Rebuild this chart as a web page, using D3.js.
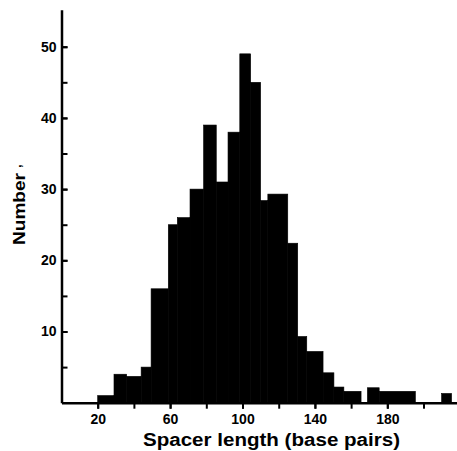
<!DOCTYPE html>
<html>
<head>
<meta charset="utf-8">
<script src="https://cdn.jsdelivr.net/npm/d3@7"></script>
<style>
  html, body { margin: 0; padding: 0; background: #fff; }
  svg { display: block; }
</style>
</head>
<body>
<svg id="chart" width="457" height="451"></svg>
<script>
// Histogram bin edges (base pairs) and counts
const binEdges = [20, 29, 36, 44, 49.5, 59, 64, 71, 78.5, 85.5, 92, 98.5, 104.5, 110, 114, 125, 130.5, 135.5, 144.5, 150.5, 156, 165.5, 169, 175.5, 195.5, 210, 215.5];
const binCounts = [1, 4, 3.7, 5, 16, 25, 26, 30, 39, 31, 38, 49, 45, 28.4, 29.3, 22.4, 9.3, 7.2, 4.2, 2.2, 1.6, 0, 2.1, 1.6, 0, 1.3];
const xTickValues = [20, 40, 60, 80, 100, 120, 140, 160, 180, 200];
const xLabelValues = [20, 60, 100, 140, 180];
const yTickValues = [5, 10, 15, 20, 25, 30, 35, 40, 45, 50];
const yLabelValues = [10, 20, 30, 40, 50];
const xTitle = "Spacer length  (base pairs)";
const yTitle = "Number";

const bins = binCounts.map((c, i) => ({ x0: binEdges[i], x1: binEdges[i + 1], count: c }));

const svg = d3.select("#chart");
const x = d3.scaleLinear().domain([0, 218.5]).range([61.5, 457]);
const y = d3.scaleLinear().domain([0, 55.2]).range([402.7, 9.7]);

// bars
svg.append("g")
  .selectAll("rect")
  .data(bins.filter(d => d.count > 0))
  .join("rect")
  .attr("x", d => x(d.x0))
  .attr("width", d => x(d.x1) - x(d.x0))
  .attr("y", d => y(d.count))
  .attr("height", d => y(0) - y(d.count))
  .attr("fill", "#000")
  .attr("stroke", "#000")
  .attr("stroke-width", 0.6);

const tickFont = "'Liberation Sans', Arial, sans-serif";

function styleTicks(g) {
  g.selectAll(".tick line").attr("stroke-width", 2);
  g.selectAll(".tick text")
    .attr("font-family", tickFont)
    .attr("font-weight", "bold")
    .attr("font-size", 14)
    .attr("fill", "#000");
}

// x axis: all ticks, then labels on every other tick
const gx = svg.append("g")
  .attr("transform", `translate(0,${y(0)})`)
  .call(d3.axisBottom(x).tickValues(xTickValues).tickFormat(() => null)
    .tickSizeInner(6).tickSizeOuter(0));
gx.select(".domain").attr("stroke-width", 2.5);
gx.selectAll(".tick text").remove();
const gxl = svg.append("g")
  .attr("transform", `translate(0,${y(0)})`)
  .call(d3.axisBottom(x).tickValues(xLabelValues).tickFormat(d3.format("d"))
    .tickSizeInner(6).tickSizeOuter(0).tickPadding(5));
gxl.select(".domain").remove();
styleTicks(gx);
styleTicks(gxl);

// y axis: inward ticks every 5, labels every 10
const gy = svg.append("g")
  .attr("transform", `translate(${x(0)},0)`)
  .call(d3.axisLeft(y).tickValues(yTickValues).tickFormat(() => null)
    .tickSizeInner(-6).tickSizeOuter(0));
gy.select(".domain").attr("stroke-width", 2.5);
gy.selectAll(".tick text").remove();
const gyl = svg.append("g")
  .attr("transform", `translate(${x(0)},0)`)
  .call(d3.axisLeft(y).tickValues(yLabelValues).tickFormat(d3.format("d"))
    .tickSizeInner(-6).tickSizeOuter(0).tickPadding(5));
gyl.select(".domain").remove();
styleTicks(gy);
styleTicks(gyl);

// x title
svg.append("text")
  .attr("x", 143)
  .attr("y", 446)
  .attr("font-family", "'Liberation Sans', Arial, sans-serif")
  .attr("font-weight", "bold")
  .attr("font-size", 18)
  .attr("textLength", 257)
  .attr("lengthAdjust", "spacingAndGlyphs")
  .attr("fill", "#000")
  .text(xTitle);

// y title
svg.append("text")
  .attr("transform", "translate(25,209) rotate(-90)")
  .attr("text-anchor", "middle")
  .attr("font-family", "'Liberation Sans', Arial, sans-serif")
  .attr("font-weight", "bold")
  .attr("font-size", 16)
  .attr("textLength", 72)
  .attr("lengthAdjust", "spacingAndGlyphs")
  .attr("fill", "#000")
  .text(yTitle);
svg.append("text")
  .attr("transform", "translate(21,166) rotate(-90)")
  .attr("text-anchor", "middle")
  .attr("font-family", "'Liberation Sans', Arial, sans-serif")
  .attr("font-weight", "bold")
  .attr("font-size", 12)
  .attr("fill", "#000")
  .text(",");
</script>
</body>
</html>
